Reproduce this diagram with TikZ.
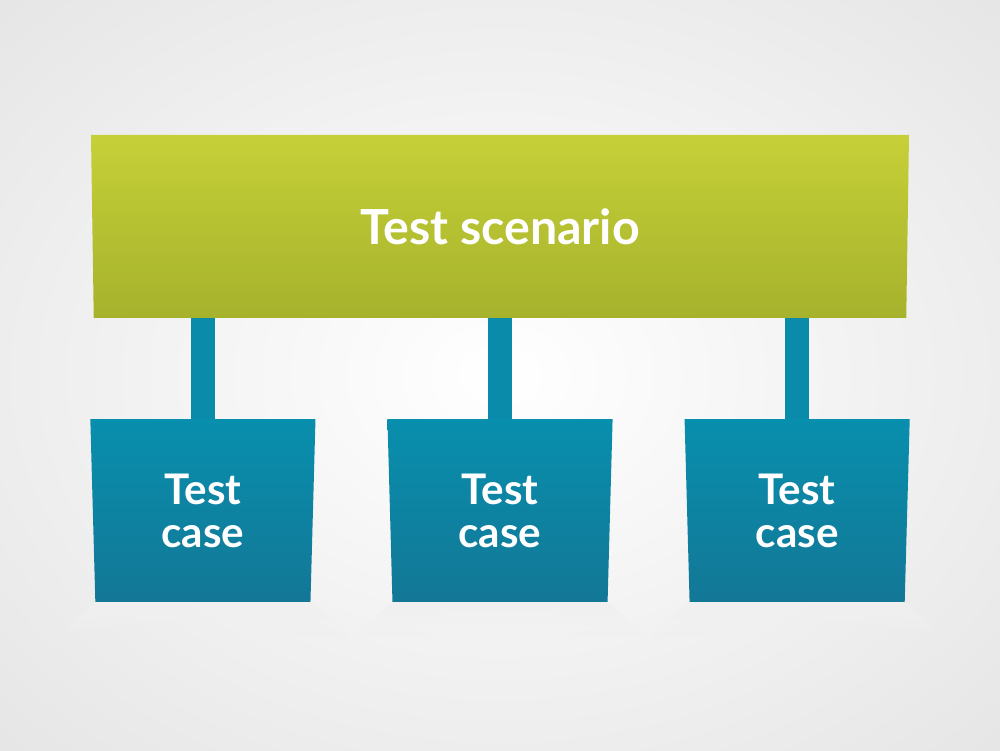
\documentclass[tikz,border=0pt]{standalone}
\usepackage{fontspec}
\setmainfont{Lato}
\usepackage{tikz}
\usetikzlibrary{positioning,calc,shapes.geometric,fadings}

\definecolor{lgreentop}{RGB}{198, 208, 56}
\definecolor{lgreenbot}{RGB}{166, 178, 44}
\definecolor{lbluetop}{RGB}{8, 143, 173}
\definecolor{lbluebot}{RGB}{19, 119, 150}
\definecolor{lbluebar}{RGB}{11, 139, 170}
\definecolor{lbggray}{RGB}{230, 230, 230}

\tikzstyle{scenario} = [trapezium, trapezium angle=91.5, trapezium stretches=true,
  minimum width=16.4cm, minimum height=3.66cm, inner sep=0pt, outer sep=0pt,
  top color=lgreentop, bottom color=lgreenbot, text=white,
  font=\fontsize{27.5}{30}\selectfont\bfseries]
\tikzstyle{testcase} = [trapezium, trapezium angle=91.5, trapezium stretches=true,
  minimum width=4.52cm, minimum height=3.66cm, inner sep=0pt, outer sep=0pt,
  top color=lbluetop, bottom color=lbluebot, text=white, align=center,
  font=\fontsize{24}{24.5}\selectfont\bfseries]
\tikzstyle{bar} = [draw, line width=0.48cm, color=lbluebar]
\tikzstyle{floor} = [fill=black!6, path fading=south]

\begin{document}
\begin{tikzpicture}

  % background
  \useasboundingbox (0,0) rectangle (20,15);
  \shade [inner color=white, outer color=lbggray] (-4,-3) rectangle (24,18);

  %%%%%%%%%%%%%%%%%%%%%%%%%%%%%%%%%%%%%%%%%%%%%%%%%%%%%%%%%%%%%%
  %                        SCENARIO                            %
  %%%%%%%%%%%%%%%%%%%%%%%%%%%%%%%%%%%%%%%%%%%%%%%%%%%%%%%%%%%%%%

  \node [scenario] at (10,10.47) (scenario) {Test scenario};

  %%%%%%%%%%%%%%%%%%%%%%%%%%%%%%%%%%%%%%%%%%%%%%%%%%%%%%%%%%%%%%
  %                        TEST CASES                          %
  %%%%%%%%%%%%%%%%%%%%%%%%%%%%%%%%%%%%%%%%%%%%%%%%%%%%%%%%%%%%%%

  \node [testcase, below = 2.02cm of scenario] (case-mid) {Test\\case};
  \node [testcase, left = 1.54cm of case-mid] (case-left) {Test\\case};
  \node [testcase, right = 1.54cm of case-mid] (case-right) {Test\\case};

  % soft floor under the boxes
  \foreach \c in {case-left,case-mid,case-right} {
    \path [floor] (\c.bottom left corner) -- (\c.bottom right corner)
      -- ++(0.8,-0.7) -- ($(\c.bottom left corner)+(-0.8,-0.7)$) -- cycle;
  }

  % bars
  \draw [bar] (case-left.north |- scenario.south) -- (case-left.north);
  \draw [bar] (scenario.south) -- (case-mid.north);
  \draw [bar] (case-right.north |- scenario.south) -- (case-right.north);

\end{tikzpicture}
\end{document}
